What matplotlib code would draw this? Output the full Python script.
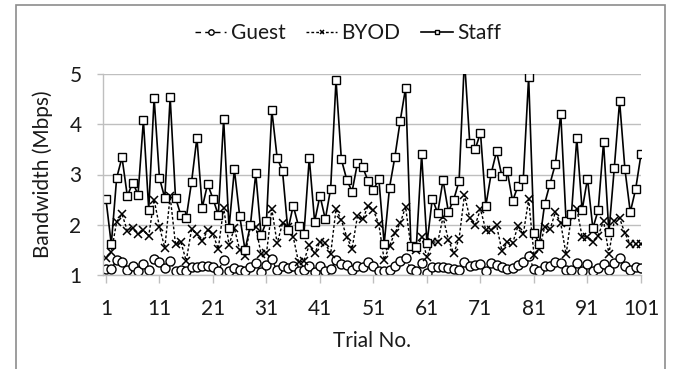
import numpy as np
import matplotlib
matplotlib.use('Agg')
import matplotlib.pyplot as plt
from matplotlib.patches import Rectangle

# valores (Mbps)
guest = [1.12, 1.12, 1.30, 1.26, 1.10, 1.18, 1.08, 1.21, 1.10, 1.31,
         1.25, 1.13, 1.28, 1.07, 1.10, 1.07, 1.15, 1.15, 1.18, 1.18,
         1.15, 1.08, 1.30, 1.07, 1.13, 1.10, 1.07, 1.15, 1.23, 1.05,
         1.20, 1.31, 1.09, 1.18, 1.13, 1.17, 1.07, 1.10, 1.17, 1.05,
         1.17, 1.07, 1.11, 1.30, 1.22, 1.20, 1.10, 1.17, 1.15, 1.25,
         1.18, 1.07, 1.08, 1.10, 1.18, 1.28, 1.33, 1.12, 1.07, 1.23,
         1.03, 1.15, 1.15, 1.15, 1.13, 1.11, 1.10, 1.26, 1.17, 1.20,
         1.22, 1.07, 1.23, 1.20, 1.15, 1.11, 1.13, 1.20, 1.25, 1.38,
         1.11, 1.07, 1.17, 1.18, 1.26, 1.23, 1.10, 1.10, 1.23, 1.07,
         1.21, 1.07, 1.13, 1.21, 1.10, 1.23, 1.33, 1.17, 1.10, 1.15, 1.13]

byod = [1.34, 1.45, 2.06, 2.21, 1.88, 1.93, 1.81, 1.89, 1.78, 2.50,
        1.96, 1.54, 2.57, 1.61, 1.66, 1.28, 1.91, 1.81, 1.68, 1.89,
        1.81, 1.52, 2.34, 1.60, 1.93, 1.50, 1.38, 1.97, 1.96, 1.41,
        1.43, 2.31, 1.63, 2.03, 1.95, 1.76, 1.25, 1.28, 1.60, 1.43,
        1.66, 1.63, 1.42, 2.31, 2.09, 1.76, 1.52, 2.17, 2.11, 2.38,
        2.29, 2.01, 1.30, 1.58, 1.84, 2.03, 2.36, 1.55, 1.50, 1.76,
        1.35, 1.66, 1.65, 2.15, 1.70, 1.43, 1.72, 2.59, 2.14, 1.99,
        2.31, 1.89, 1.89, 1.99, 1.48, 1.65, 1.63, 1.97, 1.81, 2.51,
        1.40, 1.51, 1.96, 1.91, 2.25, 2.03, 1.41, 2.19, 2.32, 1.76,
        1.76, 1.66, 1.78, 2.08, 1.42, 2.08, 2.13, 1.83, 1.61, 1.61, 1.61]

staff = [2.51, 1.61, 2.93, 3.34, 2.57, 2.84, 2.60, 4.08, 2.30, 4.53,
         2.93, 2.53, 4.54, 2.54, 2.19, 2.13, 2.85, 3.73, 2.34, 2.81,
         2.52, 2.19, 4.10, 1.93, 3.10, 2.17, 1.50, 1.99, 3.02, 1.79,
         2.07, 4.28, 3.33, 3.07, 1.89, 2.38, 1.97, 1.81, 3.33, 2.06,
         2.58, 2.11, 2.72, 4.88, 3.30, 2.90, 2.66, 3.22, 3.14, 2.87,
         2.69, 2.92, 1.62, 2.74, 3.35, 4.07, 4.72, 1.58, 1.55, 3.40,
         1.63, 2.52, 2.23, 2.89, 2.26, 2.50, 2.87, 5.30, 3.62, 3.50,
         3.83, 2.38, 3.02, 3.46, 2.97, 3.07, 2.47, 2.77, 2.91, 4.94,
         1.83, 1.62, 2.42, 2.82, 3.21, 4.21, 2.07, 2.21, 3.72, 2.29,
         2.92, 1.93, 2.29, 3.64, 1.85, 3.12, 4.46, 3.10, 2.25, 2.71, 3.40]

x_ticks = [1, 11, 21, 31, 41, 51, 61, 71, 81, 91, 101]
y_ticks = [1, 2, 3, 4, 5]

plt.rcParams['font.family'] = ['Lato', 'DejaVu Sans']
plt.rcParams['font.size'] = 15
txt = '#1a1a1a'

trial = np.arange(1, len(staff) + 1)

fig = plt.figure(figsize=(6.77, 3.69), dpi=100)
ax = fig.add_axes([103 / 677, 1 - 275 / 369, 538 / 677, 201 / 369])

ax.plot(trial, guest, color='black', lw=1.0, dashes=(4, 3),
        marker='o', ms=6.5, mfc='white', mec='black', mew=1.0, label='Guest')
ax.plot(trial, byod, color='black', lw=1.0, dashes=(2, 1.5),
        marker='x', ms=5.5, mec='black', mew=1.1, label='BYOD')
ax.plot(trial, staff, color='black', lw=1.2,
        marker='s', ms=5.5, mfc='white', mec='black', mew=1.0, label='Staff')

ax.set_xlim(0.45, 101)
ax.set_ylim(1, 5)
ax.set_xticks(x_ticks)
ax.set_yticks(y_ticks)
ax.grid(axis='y', color='#bfbfbf', lw=1.0)
ax.set_axisbelow(True)
for s in ['top', 'right']:
    ax.spines[s].set_visible(False)
for s in ['left', 'bottom']:
    ax.spines[s].set_color('#bfbfbf')
    ax.spines[s].set_linewidth(1.0)
ax.tick_params(axis='x', length=6, width=1, color='#bfbfbf', pad=11, colors=txt)
ax.tick_params(axis='y', length=4.5, width=1, color='#bfbfbf', pad=11, colors=txt)
ax.tick_params(axis='both', color='#bfbfbf')

ax.set_xlabel('Trial No.', color=txt, labelpad=9)
ax.set_ylabel('Bandwidth (Mbps)', color=txt)
ax.yaxis.set_label_coords(-0.093, 0.5)

fig.legend(loc='center', bbox_to_anchor=(0.514, 1 - 33 / 369), ncol=3,
           frameon=False, handlelength=1.5, handletextpad=0.2,
           columnspacing=1.0, markerscale=0.6, labelcolor=txt)

# borde del área del gráfico
fig.patches.append(Rectangle((16 / 677, -0.02), (665 - 16) / 677, 1.02 - 5 / 369,
                             transform=fig.transFigure, fill=False,
                             edgecolor='#8c8c8c', lw=1.2))

fig.savefig('out.png', dpi=100)
